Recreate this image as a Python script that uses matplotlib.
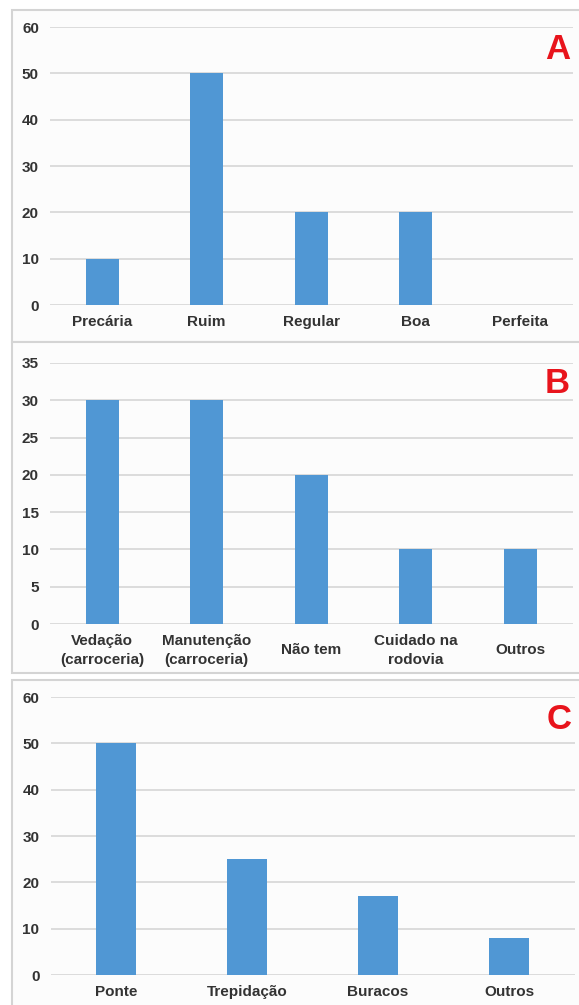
import matplotlib.pyplot as plt
from matplotlib.patches import Rectangle

plt.rcParams['font.family'] = ['Liberation Sans', 'DejaVu Sans']

# dados dos tres paineis
cat_a = ['Precária', 'Ruim', 'Regular', 'Boa', 'Perfeita']
val_a = [10, 50, 20, 20, 0]

cat_b = ['Vedação\n(carroceria)', 'Manutenção\n(carroceria)', 'Não tem', 'Cuidado na\nrodovia', 'Outros']
val_b = [30, 30, 20, 10, 10]

cat_c = ['Ponte', 'Trepidação', 'Buracos', 'Outros']
val_c = [50, 25, 17, 8]

W, H = 579, 1005
fig = plt.figure(figsize=(W / 100, H / 100), dpi=100)

bar_color = '#5097d4'
txt_color = '#333333'


def px_box(x0, y0, x1, y1):
    # pixel coords (top-left origin) -> figure fraction
    return [x0 / W, 1 - y1 / H, (x1 - x0) / W, (y1 - y0) / H]


# molduras dos paineis (lado direito fica fora da imagem)
for y0, y1 in [(10, 342), (342, 673), (680, 1010)]:
    fig.patches.append(Rectangle((12 / W, 1 - y1 / H), (584 - 12) / W, (y1 - y0) / H,
                                 transform=fig.transFigure, facecolor='#fcfcfc',
                                 edgecolor='#d4d4d4', linewidth=1.5, zorder=-10))


def draw(rect, cats, vals, ymax, step, letter, width, pad, va='top'):
    ax = fig.add_axes(rect)
    ax.set_facecolor('none')
    x = list(range(len(cats)))
    ax.bar(x, vals, width=width, color=bar_color, zorder=3)
    ax.set_xlim(-0.5, len(cats) - 0.5)
    ax.set_ylim(0, ymax)
    ax.set_yticks(range(0, ymax + 1, step))
    ax.set_xticks(x)
    ax.set_xticklabels(cats, va=va, linespacing=1.4)
    ax.grid(axis='y', color='#d9d9d9', linewidth=1.3, zorder=0)
    ax.set_axisbelow(True)
    for s in ax.spines.values():
        s.set_visible(False)
    ax.tick_params(axis='both', length=0, labelsize=11, labelcolor=txt_color)
    ax.tick_params(axis='x', pad=pad)
    ax.tick_params(axis='y', pad=8)
    for t in ax.get_xticklabels() + ax.get_yticklabels():
        t.set_fontweight('bold')
    ax.text(0.995, 0.92, letter, transform=ax.transAxes, ha='right', va='center',
            fontsize=25, fontweight='bold', color='#e8141c')
    return ax


draw(px_box(50, 27, 572.5, 305), cat_a, val_a, 60, 10, 'A', 0.32, 7)
draw(px_box(50, 363, 572.5, 624), cat_b, val_b, 35, 5, 'B', 0.32, 19, va='center')
draw(px_box(50.5, 697, 574.5, 975), cat_c, val_c, 60, 10, 'C', 0.31, 7)

fig.savefig('out.png', dpi=100)
